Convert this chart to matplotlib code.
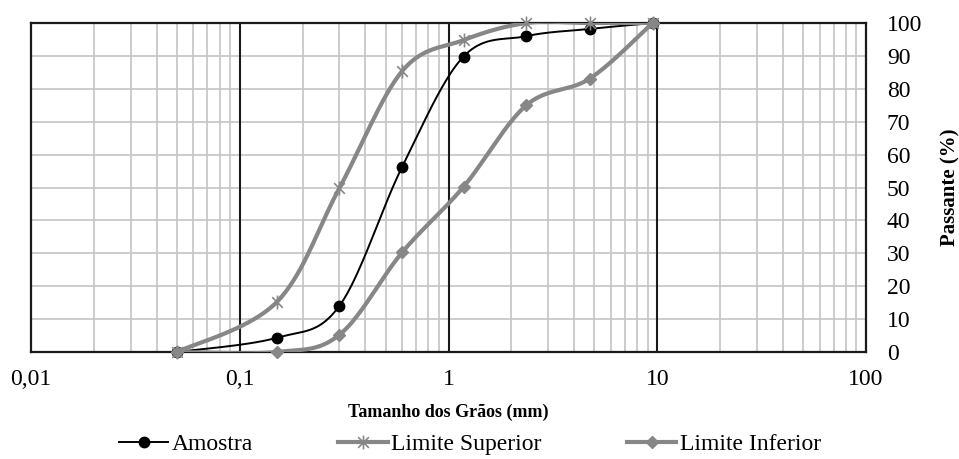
import numpy as np
import matplotlib
matplotlib.use("Agg")
import matplotlib.pyplot as plt
from matplotlib.lines import Line2D
from matplotlib.path import Path
from matplotlib.ticker import FixedLocator, NullFormatter, FixedFormatter

plt.rcParams['font.family'] = ['Liberation Serif', 'DejaVu Serif']

sieves = [0.05, 0.15, 0.3, 0.6, 1.18, 2.36, 4.75, 9.5]
amostra = [0, 4.3, 14.0, 56.3, 89.8, 96.0, 98.2, 100]
lim_sup = [0, 15.1, 49.8, 85.4, 94.8, 100, 100, 100]
lim_inf = [0, 0, 5.2, 30.3, 50.2, 75.0, 83.1, 100]

x_ticks = [0.01, 0.1, 1, 10, 100]
x_labels = ['0,01', '0,1', '1', '10', '100']
y_ticks = list(range(0, 101, 10))

fig = plt.figure(figsize=(9.59, 4.59), dpi=100)
ax = fig.add_axes([31/959, 1-352/459, (866-31)/959, (352-23)/459])
ax.set_xscale('log')
ax.set_xlim(0.01, 100)
ax.set_ylim(0, 100)

GRAY = '#878787'
GRID = '#c4c4c4'

# grid
minor = [m * 10.0**e for e in range(-2, 2) for m in range(2, 10)]
for xv in minor:
    ax.axvline(xv, color=GRID, lw=1.2, zorder=0.5)
for xv in x_ticks[1:-1]:
    ax.axvline(xv, color='#1a1a1a', lw=1.5, zorder=0.6)
for yv in y_ticks[1:-1]:
    ax.axhline(yv, color=GRID, lw=1.2, zorder=0.5)

for s in ax.spines.values():
    s.set_linewidth(1.6)
    s.set_color('#1a1a1a')

ax.xaxis.set_major_locator(FixedLocator(x_ticks))
ax.xaxis.set_major_formatter(FixedFormatter(x_labels))
ax.xaxis.set_minor_locator(FixedLocator(minor))
ax.xaxis.set_minor_formatter(NullFormatter())
ax.yaxis.tick_right()
ax.yaxis.set_label_position('right')
ax.set_yticks(y_ticks)
ax.tick_params(axis='both', which='both', length=0, labelsize=17)
ax.tick_params(axis='x', pad=12)
ax.tick_params(axis='y', pad=15)

ax.set_xlabel('Tamanho dos Grãos (mm)', fontsize=13, fontweight='bold', labelpad=10)
ax.set_ylabel('Passante (%)', fontsize=15, fontweight='bold', labelpad=13)


def smooth(xs, ys, n=40):
    pts = ax.transData.transform(np.column_stack([xs, ys]))
    out = []
    for i in range(len(pts) - 1):
        p0 = pts[i - 1] if i > 0 else pts[i]
        p1 = pts[i]
        p2 = pts[i + 1]
        p3 = pts[i + 2] if i + 2 < len(pts) else pts[i + 1]
        c1 = p1 + (p2 - p0) / 6
        c2 = p2 - (p3 - p1) / 6
        t = np.linspace(0, 1, n)[:, None]
        seg = (1 - t)**3 * p1 + 3 * (1 - t)**2 * t * c1 + 3 * (1 - t) * t**2 * c2 + t**3 * p2
        out.append(seg if i == 0 else seg[1:])
    out = np.vstack(out)
    d = ax.transData.inverted().transform(out)
    return d[:, 0], d[:, 1]


star = Path([(-1, -1), (1, 1), (-1, 1), (1, -1), (0, -1.3), (0, 1.3)],
            [Path.MOVETO, Path.LINETO, Path.MOVETO, Path.LINETO, Path.MOVETO, Path.LINETO])

sx, sy = smooth(sieves, amostra)
ax.plot(sx, sy, color='black', lw=1.4, zorder=3)
ax.plot(sieves, amostra, ls='none', marker='o', ms=7.5, color='black', zorder=3.1, clip_on=False)

sx, sy = smooth(sieves, lim_sup)
ax.plot(sx, sy, color=GRAY, lw=3, zorder=4, solid_capstyle='round')
ax.plot(sieves, lim_sup, ls='none', marker=star, ms=10, mew=1.2, color=GRAY, zorder=4.1, clip_on=False)

sx, sy = smooth(sieves, lim_inf)
ax.plot(sx, sy, color=GRAY, lw=3, zorder=5, solid_capstyle='round')
ax.plot(sieves, lim_inf, ls='none', marker='D', ms=6, color=GRAY, zorder=5.1, clip_on=False)

handles = [
    Line2D([], [], color='black', lw=1.4, marker='o', ms=7.5),
    Line2D([], [], color=GRAY, lw=3, marker=star, ms=10, mew=1.2),
    Line2D([], [], color=GRAY, lw=3, marker='D', ms=6),
]
fig.legend(handles, ['Amostra', 'Limite Superior', 'Limite Inferior'],
           loc='center', bbox_to_anchor=(0.49, 1 - 444/459), ncol=3, frameon=False,
           fontsize=17, handlelength=2.1, handletextpad=0.15, columnspacing=3.6,
           borderaxespad=0)

fig.savefig('out.png', dpi=100)
